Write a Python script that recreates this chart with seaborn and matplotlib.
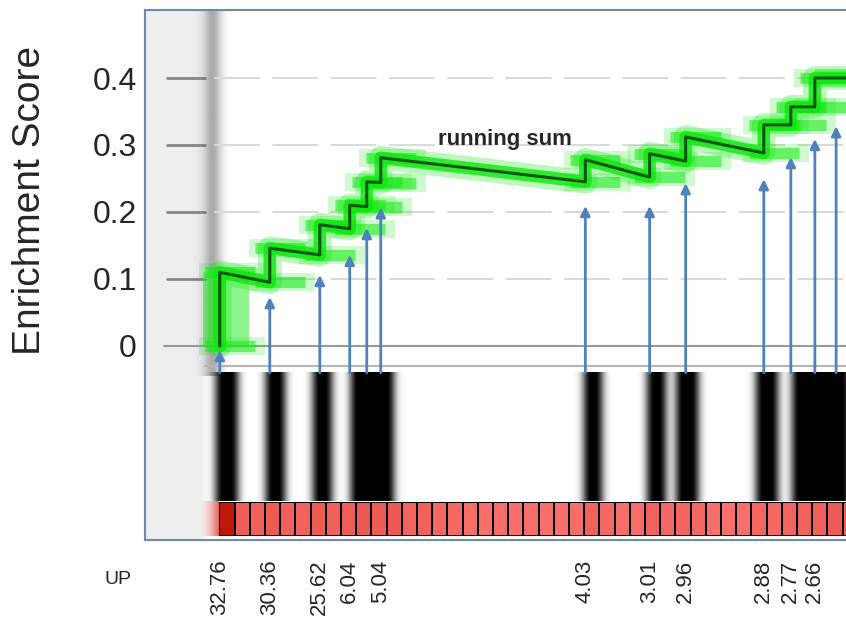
import numpy as np
import pandas as pd
import matplotlib.pyplot as plt
import seaborn as sns
from matplotlib.colors import LinearSegmentedColormap

# ranked-list positions of the gene-set hits (box i of the strip spans [i, i+1])
hit_pos = [0.05, 3.34, 6.63, 8.6, 9.72, 10.64, 24.1, 28.33, 30.7, 35.84, 37.62, 39.2, 40.6]
# running enrichment score just before / just after each hit
es_before = [0.0, 0.095, 0.136, 0.175, 0.208, 0.244, 0.245, 0.252, 0.276, 0.288, 0.330, 0.357, 0.400]
es_after = [0.110, 0.146, 0.181, 0.210, 0.245, 0.281, 0.278, 0.287, 0.312, 0.330, 0.357, 0.400, 0.400]
# where each blue arrow ends
arrow_top = [-0.006, 0.073, 0.106, 0.136, 0.176, 0.207, 0.209, 0.209, 0.243, 0.249, 0.282, 0.309, 0.328]

# black barcode segments (start, end) along the ranked list
bar_start = [-0.15, 3.14, 6.24, 8.72, 24.06, 28.2, 30.12, 35.37, 37.74]
bar_end = [1.16, 4.26, 7.36, 11.43, 25.11, 29.31, 31.43, 36.69, 42.0]

# fold-change labels under the hits
label_hits = [0, 1, 2, 3, 5, 6, 7, 8, 9, 10, 11]
fold_change = ['32.76', '30.36', '25.62', '6.04', '5.04', '4.03', '3.01', '2.96', '2.88', '2.77', '2.66']

# colour intensity of the ranked-list strip
box_values = [1.0, 0.35, 0.3, 0.38, 0.3, 0.28, 0.38, 0.3, 0.35, 0.4, 0.38, 0.4, 0.25, 0.28,
              0.2, 0.18, 0.12, 0.1, 0.12, 0.1, 0.12, 0.1, 0.1, 0.12, 0.28, 0.2, 0.12, 0.12,
              0.28, 0.2, 0.25, 0.2, 0.1, 0.08, 0.1, 0.22, 0.18, 0.25, 0.28, 0.3, 0.38, 0.3, 0.3]

es_ticks = [0, 0.1, 0.2, 0.3, 0.4]
es_ticklabels = ['0', '0.1', '0.2', '0.3', '0.4']

sns.set_style('white')
plt.rcParams['font.family'] = ['Liberation Sans', 'DejaVu Sans']

W, H = 846, 618
fig = plt.figure(figsize=(W / 100, H / 100), dpi=100)
ax = fig.add_axes([145 / W, 1 - 540 / H, (848.3 - 145) / W, 530 / H])
xmin, xmax = -4.87, 41.4
ax.set_xlim(xmin, xmax)
ax.set_ylim(-0.2896, 0.5015)

# ---- background: grey margin and the blurred dark band
xs = np.linspace(xmin, xmax, 3000)
dx = xs[1] - xs[0]
grey = np.where(xs < -1.4, 1.0, np.exp(-((xs + 1.4) / 0.5) ** 2))
img = np.zeros((1, len(xs), 4))
img[..., :3] = 0.937
img[..., 3] = grey
ax.imshow(img, extent=(xmin, xmax, -0.2896, 0.5015), aspect='auto', interpolation='bilinear', zorder=0)

band = 0.55 * np.exp(-0.5 * ((xs + 0.45) / 0.42) ** 2)
img = np.zeros((1, len(xs), 4))
img[..., :3] = 0.4
img[..., 3] = band
ax.imshow(img, extent=(xmin, xmax, -0.045, 0.5015), aspect='auto', interpolation='bilinear', zorder=0.5)

# ---- grid and reference lines
for t in es_ticks[1:]:
    ax.plot([-0.3, xmax], [t, t], color='#dadada', lw=1.5, ls=(0, (22, 6)), zorder=1)
    ax.plot([-3.4, -0.9], [t, t], color='#5a5a5a', lw=2, alpha=0.7, zorder=1)
ax.plot([-3.6, xmax], [0, 0], color='#9a9a9a', lw=1.5, zorder=1)
ax.plot([-0.9, xmax], [-0.03, -0.03], color='#b5b5b5', lw=1.5, zorder=1)

# ---- barcode of hits (blurred black bars)
prof = np.zeros_like(xs)
for s, e in zip(bar_start, bar_end):
    prof[(xs >= s - 0.05) & (xs <= e + 0.05)] = 1.0
k = np.arange(-80, 81) * dx
kern = np.exp(-0.5 * (k / 0.28) ** 2)
prof = np.clip(np.convolve(prof, kern / kern.sum(), mode='same') * 1.1, 0, 1)
img = np.zeros((1, len(xs), 4))
img[..., 3] = prof
ax.imshow(img, extent=(xmin, xmax, -0.232, -0.040), aspect='auto', interpolation='bilinear', zorder=2)

# faded red lead-in left of the strip
fade = np.zeros((1, 50, 4))
fade[..., 0], fade[..., 1], fade[..., 2] = 0.86, 0.3, 0.27
fade[..., 3] = np.linspace(0, 0.9, 50) ** 1.5
ax.imshow(fade, extent=(-1.3, 0.0, -0.284, -0.233), aspect='auto', zorder=2)

# ---- running sum with green glow
rank, es = [], []
for h, b, a in zip(hit_pos, es_before, es_after):
    rank += [h, h]
    es += [b, a]
rank.append(xmax)
es.append(es_after[-1])
path = pd.DataFrame({'rank': rank, 'es': es})

for h, b, a in zip(hit_pos, es_before, es_after):
    ax.hlines([b, a], h - 1.4, h + 3.0, color='#10e810', lw=13, alpha=0.2, zorder=3)
    ax.hlines([b, a], h - 1.0, h + 2.3, color='#10ea10', lw=8, alpha=0.55, zorder=3)
ax.fill_between([hit_pos[0] - 1.1, hit_pos[0] + 1.9], es_before[0], es_after[0],
                color='#20ec20', alpha=0.5, lw=0, zorder=3)
sns.lineplot(data=path, x='rank', y='es', sort=False, estimator=None, ax=ax,
             color='#10e810', lw=17, alpha=0.28, zorder=3)
sns.lineplot(data=path, x='rank', y='es', sort=False, estimator=None, ax=ax,
             color='#0ce80c', lw=9, alpha=0.8, zorder=3)
sns.lineplot(data=path, x='rank', y='es', sort=False, estimator=None, ax=ax,
             color='#125512', lw=2.2, zorder=4)
ax.text(18.8, 0.308, 'running sum', fontsize=16, fontweight='bold', ha='center', va='center', zorder=6)

# ---- arrows from the barcode to the curve
for h, top in zip(hit_pos, arrow_top):
    ax.annotate('', xy=(h, top), xytext=(h, -0.040),
                arrowprops=dict(arrowstyle='-|>', color='#4f81bd', lw=2, mutation_scale=14,
                                shrinkA=0, shrinkB=0), zorder=5)

# ---- axes styling
ax.set_yticks(es_ticks)
ax.set_yticklabels(es_ticklabels, fontsize=23)
ax.set_xticks([hit_pos[i] for i in label_hits])
ax.set_xticklabels(fold_change, rotation=90, fontsize=16)
ax.tick_params(axis='y', length=0, pad=6)
ax.tick_params(axis='x', length=0, pad=14)
ax.set_xlabel('')
ax.set_ylabel('')
for side in ['left', 'top', 'bottom']:
    ax.spines[side].set_color('#6f88b2')
    ax.spines[side].set_linewidth(1.5)
ax.spines['right'].set_visible(False)

fig.text(30 / W, 1 - 200 / H, 'Enrichment Score', rotation=90, fontsize=28, ha='center', va='center')
fig.text(118 / W, 1 - 580 / H, 'UP', fontsize=14, ha='center', va='center')

# ---- ranked-list strip
red_cmap = LinearSegmentedColormap.from_list('strip', ['#fc7672', '#e8524c', '#c01808'])
hax = fig.add_axes([219.3 / W, 1 - 536 / H, 43 * 15.2 / W, 34 / H])
sns.heatmap(np.array([box_values]), ax=hax, cmap=red_cmap, vmin=0, vmax=1, cbar=False,
            linewidths=1.2, linecolor='black', xticklabels=False, yticklabels=False)
hax.set_facecolor('none')

fig.savefig('out.png', dpi=100)
